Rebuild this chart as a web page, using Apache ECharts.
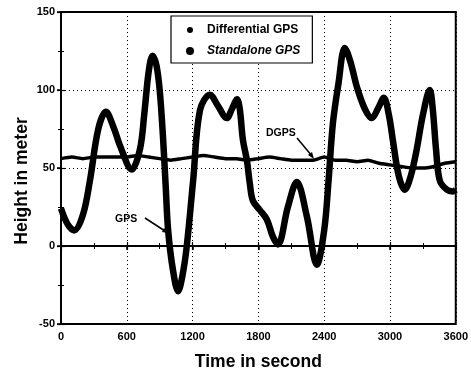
<!DOCTYPE html>
<html>
<head>
<meta charset="utf-8">
<script src="https://cdn.jsdelivr.net/npm/echarts@6/dist/echarts.min.js"></script>
<style>html,body{margin:0;padding:0;background:#fff}#c{width:471px;height:376px}</style>
</head>
<body>
<div id="c"></div>
<script>
// Standalone GPS (time in s, height in m)
const gpsTime   = [0, 60, 120, 200, 264, 340, 410, 480, 540, 645, 720, 760, 800, 835, 870, 900, 930, 955, 977, 1020, 1068, 1110, 1147, 1205, 1267, 1358, 1430, 1512, 1560, 1605, 1630, 1659, 1695, 1722, 1750, 1814, 1877, 1932, 1978, 2069, 2150, 2242, 2333, 2400, 2440, 2480, 2530, 2588, 2640, 2698, 2770, 2835, 2890, 2944, 2990, 3026, 3080, 3135, 3190, 3244, 3300, 3363, 3390, 3420, 3454, 3520, 3573, 3600];
const gpsHeight = [24, 14, 10, 20, 42, 75, 86, 76, 64, 49, 62, 85, 112, 122, 116, 100, 70, 38, 10, -15, -29, -18, 0, 42, 87, 97, 90, 82, 88, 94, 88, 68, 55, 40, 29, 23, 17, 6, 1, 25, 41, 19, -12, 10, 42, 79, 104, 127, 118, 102, 88, 82, 88, 95, 84, 68, 45, 36, 45, 62, 84, 100, 88, 62, 42, 36, 35, 36];
// Differential GPS
const dgpsTime   = [0, 100, 200, 300, 400, 500, 600, 700, 800, 900, 1000, 1100, 1200, 1300, 1400, 1500, 1600, 1700, 1800, 1900, 2000, 2100, 2200, 2300, 2400, 2500, 2600, 2700, 2800, 2900, 3000, 3100, 3200, 3300, 3400, 3500, 3600];
const dgpsHeight = [56, 57, 56, 57, 57, 57, 57, 58, 57, 56, 55, 56, 57, 58, 57, 56, 56, 55, 56, 57, 56, 55, 55, 55, 57, 55, 55, 54, 55, 53, 52, 51, 50, 50, 51, 53, 54];
const xTicks = [0, 600, 1200, 1800, 2400, 3000, 3600];
const yTicks = [-50, 0, 50, 100, 150];

const pair = (t, v) => t.map((x, i) => [x, v[i]]);
const tickFont = {fontFamily: 'Liberation Sans Narrow, Liberation Sans, Arial', fontWeight: 'bold', fontSize: 11, color: '#000'};

const chart = echarts.init(document.getElementById('c'), null, {renderer: 'canvas'});
chart.setOption({
  backgroundColor: '#fff',
  animation: false,
  grid: {left: 61, right: 15, top: 12, bottom: 52, show: true, borderColor: '#000', borderWidth: 2, backgroundColor: 'transparent'},
  legend: {
    orient: 'vertical', left: 171, top: 16,
    padding: [8, 12, 6, 14], itemGap: 9,
    borderColor: '#000', borderWidth: 1.2, backgroundColor: '#fff',
    icon: 'circle', itemWidth: 8, itemHeight: 8,
    data: [
      {name: 'Differential GPS', itemStyle: {color: '#000', borderColor: '#fff', borderWidth: 2}},
      {name: 'Standalone GPS', itemStyle: {color: '#000', borderWidth: 0}}
    ],
    formatter: n => n === 'Differential GPS' ? '{b|' + n + '}' : '{i|' + n + '}',
    textStyle: {
      padding: [0, 0, 0, 8],
      rich: {
        b: {fontFamily: 'Liberation Sans, Arial', fontWeight: 'bold', fontSize: 12, height: 14, color: '#000'},
        i: {fontFamily: 'Liberation Sans, Arial', fontWeight: 'bold', fontStyle: 'italic', fontSize: 12, height: 14, color: '#000'}
      }
    }
  },
  xAxis: [
    {type: 'value', min: 0, max: 3600, interval: 600, position: 'bottom',
     name: 'Time in second', nameLocation: 'middle', nameGap: 29,
     nameTextStyle: {fontFamily: 'Liberation Sans, Arial', fontWeight: 'bold', fontSize: 17.5, color: '#000', verticalAlign: 'top'},
     axisLine: {show: true, lineStyle: {color: '#000', width: 2}},
     axisTick: {show: true, inside: false, length: 4, lineStyle: {color: '#000', width: 1.5}},
     axisLabel: Object.assign({margin: 7, formatter: v => xTicks.includes(v) ? String(v) : ''}, tickFont),
     splitLine: {show: true, lineStyle: {color: '#000', type: [1, 3], width: 1}}},
    {type: 'value', min: 0, max: 3600, interval: 600, position: 'bottom', gridIndex: 0,
     axisLine: {show: false}, axisLabel: {show: false}, splitLine: {show: false},
     axisTick: {show: true, inside: true, length: 4, lineStyle: {color: '#000', width: 1.2}},
     minorTick: {show: true, splitNumber: 2, length: 3, lineStyle: {color: '#000', width: 1}}},
    {type: 'value', min: 0, max: 3600, interval: 600, position: 'top',
     axisLine: {show: true, lineStyle: {color: '#000', width: 2}}, axisLabel: {show: false}, splitLine: {show: false},
     axisTick: {show: true, inside: true, length: 4, lineStyle: {color: '#000', width: 1.2}},
     minorTick: {show: true, splitNumber: 2, length: 3, lineStyle: {color: '#000', width: 1}}}
  ],
  yAxis: [
    {type: 'value', min: -50, max: 150, interval: 50, position: 'left',
     axisLine: {show: true, lineStyle: {color: '#000', width: 2}},
     axisTick: {show: true, inside: false, length: 4, lineStyle: {color: '#000', width: 1.5}},
     axisLabel: Object.assign({margin: 6, formatter: v => yTicks.includes(v) ? String(v) : ''}, tickFont),
     splitLine: {show: true, lineStyle: {color: '#000', type: [1, 3], width: 1}}},
    {type: 'value', min: -50, max: 150, interval: 50, position: 'left', gridIndex: 0,
     axisLine: {show: false}, axisLabel: {show: false}, splitLine: {show: false},
     axisTick: {show: true, inside: true, length: 4, lineStyle: {color: '#000', width: 1.2}},
     minorTick: {show: true, splitNumber: 2, length: 3, lineStyle: {color: '#000', width: 1}}},
    {type: 'value', min: -50, max: 150, interval: 50, position: 'right',
     axisLine: {show: true, lineStyle: {color: '#000', width: 2}}, axisLabel: {show: false}, splitLine: {show: false},
     axisTick: {show: true, inside: true, length: 4, lineStyle: {color: '#000', width: 1.2}},
     minorTick: {show: true, splitNumber: 2, length: 3, lineStyle: {color: '#000', width: 1}}}
  ],
  series: [
    {name: 'Differential GPS', type: 'line', data: pair(dgpsTime, dgpsHeight), showSymbol: false, symbol: 'circle',
     smooth: 0.2, lineStyle: {color: '#000', width: 3.5}, itemStyle: {color: '#000'}, z: 3},
    {name: 'Standalone GPS', type: 'line', data: pair(gpsTime, gpsHeight), showSymbol: false, symbol: 'circle',
     smooth: 0.35, lineStyle: {color: '#000', width: 6.5}, itemStyle: {color: '#000'}, z: 4}
  ],
  graphic: [
    {type: 'text', x: 22, y: 181, rotation: Math.PI / 2,
     style: {text: 'Height in meter', font: 'bold 17.5px Liberation Sans, Arial', fill: '#000', align: 'center', verticalAlign: 'middle'}},
    {type: 'text', left: 266, top: 128, style: {text: 'DGPS', font: 'bold 10.5px Liberation Sans, Arial', fill: '#000'}},
    {type: 'line', shape: {x1: 297, y1: 138, x2: 312, y2: 156}, style: {stroke: '#000', lineWidth: 1.5}},
    {type: 'polygon', shape: {points: [[314, 159], [308, 155], [312, 152]]}, style: {fill: '#000'}},
    {type: 'text', left: 115, top: 214, style: {text: 'GPS', font: 'bold 10.5px Liberation Sans, Arial', fill: '#000'}},
    {type: 'line', shape: {x1: 145, y1: 218, x2: 165, y2: 231}, style: {stroke: '#000', lineWidth: 1.5}},
    {type: 'polygon', shape: {points: [[168, 233], [162, 232], [164, 228]]}, style: {fill: '#000'}}
  ]
});
</script>
</body>
</html>
